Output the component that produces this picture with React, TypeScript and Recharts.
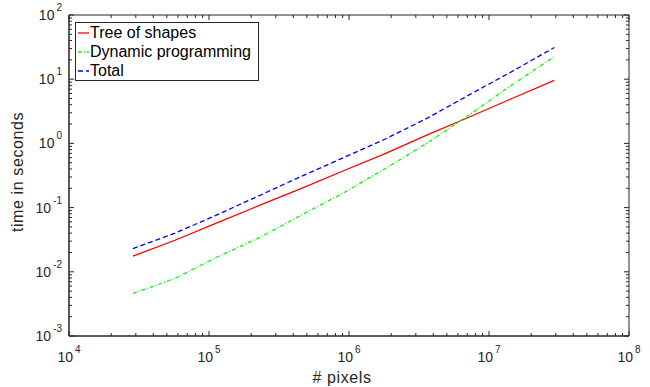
import React from "react";
import { LineChart, Line, XAxis, YAxis, ReferenceArea } from "recharts";

// image size (# pixels) for each run
const pixelCounts = [2.86e4, 5.72e4, 1.14e5, 2.29e5, 4.58e5, 9.15e5, 1.83e6, 3.66e6, 7.32e6, 1.46e7, 2.93e7];
// seconds
const treeOfShapes = [0.0175, 0.031, 0.058, 0.108, 0.2, 0.375, 0.7, 1.37, 2.6, 5.0, 9.6];
const dynamicProgramming = [0.0046, 0.0079, 0.017, 0.034, 0.077, 0.17, 0.41, 1.03, 2.83, 8.2, 22.6];
const total = [0.023, 0.04, 0.077, 0.154, 0.307, 0.6, 1.18, 2.5, 5.8, 13.2, 31.2];

const xMajorTicks = [1e4, 1e5, 1e6, 1e7, 1e8];
const yMajorTicks = [1e-3, 1e-2, 1e-1, 1e0, 1e1, 1e2];

const minorsOf = (majors: number[]) =>
  majors.slice(0, -1).flatMap((m) => [2, 3, 4, 5, 6, 7, 8, 9].map((k) => k * m));
const xAllTicks = [...xMajorTicks, ...minorsOf(xMajorTicks)];
const yAllTicks = [...yMajorTicks, ...minorsOf(yMajorTicks)];

const series = [
  { key: "tree", name: "Tree of shapes", color: "#ff0000", dash: undefined as string | undefined },
  { key: "dp", name: "Dynamic programming", color: "#00ff00", dash: "4 2 1 2" },
  { key: "total", name: "Total", color: "#0000ff", dash: "5 3" },
];

const data = pixelCounts.map((x, i) => ({
  x,
  tree: treeOfShapes[i],
  dp: dynamicProgramming[i],
  total: total[i],
}));

const FONT = "'Liberation Sans', Arial, Helvetica, sans-serif";
const INK = "#262626";

const W = 650;
const H = 387;
const M = { top: 15, right: 21, bottom: 0, left: 0 };
const X_AXIS_H = 51;
const Y_AXIS_W = 69;
const PLOT_TOP = M.top;
const PLOT_BOTTOM = H - X_AXIS_H;
const PLOT_LEFT = Y_AXIS_W;
const PLOT_RIGHT = W - M.right;
const MAJOR_LEN = 5;
const MINOR_LEN = 3;

const exponent = (v: number) => Math.round(Math.log10(v));

// tick marks point inward on both opposite sides, labels only on majors
const XTick = (props: any) => {
  const { x, payload } = props;
  const major = xMajorTicks.includes(payload.value);
  const len = major ? MAJOR_LEN : MINOR_LEN;
  return (
    <g>
      <line x1={x} x2={x} y1={PLOT_BOTTOM} y2={PLOT_BOTTOM - len} stroke={INK} />
      <line x1={x} x2={x} y1={PLOT_TOP} y2={PLOT_TOP + len} stroke={INK} />
      {major && (
        <text x={x} y={362} textAnchor="middle" fontFamily={FONT} fontSize={14} fill={INK}>
          <tspan>10</tspan>
          <tspan dx={2} dy={-9} fontSize={10}>
            {exponent(payload.value)}
          </tspan>
        </text>
      )}
    </g>
  );
};

const YTick = (props: any) => {
  const { y, payload } = props;
  const major = yMajorTicks.includes(payload.value);
  const len = major ? MAJOR_LEN : MINOR_LEN;
  return (
    <g>
      <line x1={PLOT_LEFT} x2={PLOT_LEFT + len} y1={y} y2={y} stroke={INK} />
      <line x1={PLOT_RIGHT} x2={PLOT_RIGHT - len} y1={y} y2={y} stroke={INK} />
      {major && (
        <text x={62} y={y + 5} textAnchor="end" fontFamily={FONT} fontSize={14} fill={INK}>
          <tspan>10</tspan>
          <tspan dx={2} dy={-9} fontSize={10}>
            {exponent(payload.value)}
          </tspan>
        </text>
      )}
    </g>
  );
};

const xLabel = () => (
  <text x={342} y={383} textAnchor="middle" fontFamily={FONT} fontSize={16} letterSpacing={0.6} fill={INK}>
    # pixels
  </text>
);

const yLabel = () => (
  <text
    x={23}
    y={172}
    transform="rotate(-90 23 172)"
    textAnchor="middle"
    fontFamily={FONT}
    fontSize={16}
    letterSpacing={0.6}
    fill={INK}
  >
    time in seconds
  </text>
);

const Legend = () => (
  <div
    style={{
      position: "absolute",
      left: 75,
      top: 22,
      width: 184,
      height: 59,
      border: `1px solid ${INK}`,
      background: "#fff",
      fontFamily: FONT,
      fontSize: 16,
      color: "#000",
      boxSizing: "border-box",
      paddingTop: 0,
    }}
  >
    {series.map((s) => (
      <div key={s.key} style={{ display: "flex", alignItems: "center", height: 19 }}>
        <svg width={13} height={10} style={{ marginLeft: 1 }}>
          <line x1={1} x2={12} y1={5} y2={5} stroke={s.color} strokeWidth={1.3} strokeDasharray={s.dash} />
        </svg>
        <span style={{ lineHeight: "19px" }}>{s.name}</span>
      </div>
    ))}
  </div>
);

export default function App() {
  return (
    <div style={{ position: "absolute", left: 0, top: 0, width: W, height: H, background: "#fff" }}>
      <LineChart width={W} height={H} data={data} margin={M}>
        <XAxis
          type="number"
          scale="log"
          domain={[1e4, 1e8]}
          allowDataOverflow
          dataKey="x"
          height={X_AXIS_H}
          ticks={xAllTicks}
          interval={0}
          tickLine={false}
          axisLine={{ stroke: INK }}
          tick={<XTick />}
          label={xLabel}
        />
        <YAxis
          type="number"
          scale="log"
          domain={[1e-3, 1e2]}
          allowDataOverflow
          width={Y_AXIS_W}
          ticks={yAllTicks}
          interval={0}
          tickLine={false}
          axisLine={{ stroke: INK }}
          tick={<YTick />}
          label={yLabel}
        />
        <ReferenceArea x1={1e4} x2={1e8} y1={1e-3} y2={1e2} fill="none" fillOpacity={0} stroke={INK} strokeWidth={1} />
        {series.map((s) => (
          <Line
            key={s.key}
            dataKey={s.key}
            name={s.name}
            stroke={s.color}
            strokeWidth={1.3}
            strokeDasharray={s.dash}
            dot={false}
            activeDot={false}
            type="linear"
            isAnimationActive={false}
          />
        ))}
      </LineChart>
      <Legend />
    </div>
  );
}
